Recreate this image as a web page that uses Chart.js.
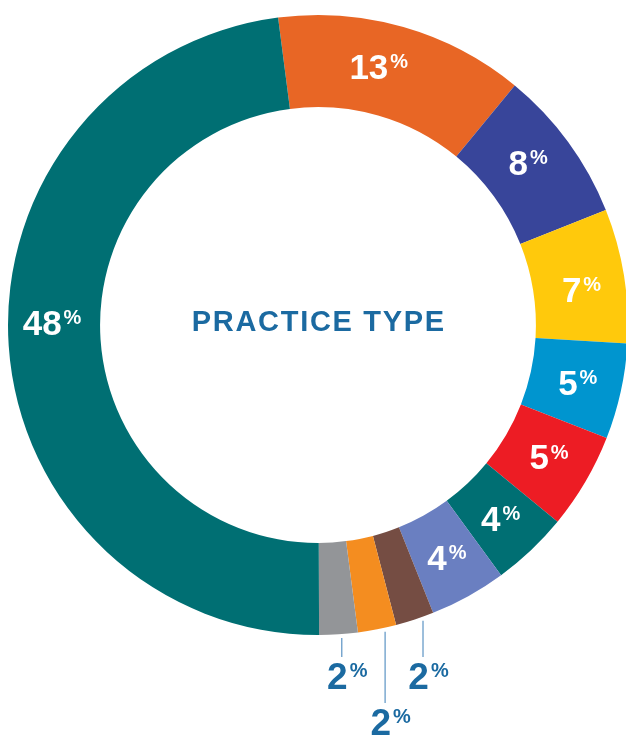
<!DOCTYPE html>
<html>
<head>
<meta charset="utf-8">
<script src="https://cdn.jsdelivr.net/npm/chart.js@4.4.0/dist/chart.umd.min.js"></script>
<style>
  html, body { margin: 0; padding: 0; background: #fff; overflow: hidden; }
  #wrap { width: 640px; height: 738px; position: relative; }
</style>
</head>
<body>
<div id="wrap"><canvas id="chart"></canvas></div>
<script>
// data, clockwise from the top
const categories = ["A", "B", "C", "D", "E", "F", "G", "H", "I", "J", "K"];
const shares = [13, 8, 7, 5, 5, 4, 4, 2, 2, 2, 48];
const colors = ["#E86625", "#38459A", "#FFC90C", "#0095CF", "#ED1C24", "#006F73",
  "#6A7FC1", "#754D43", "#F48D20", "#939598", "#006F73"];
const centerTitle = "PRACTICE TYPE";

const FONT = "'Liberation Sans', Arial, Helvetica, sans-serif";
const blue = "#1B6AA1";

// label placement tweaks (degrees along the ring), the way the original was hand-placed
const labelNudge = [-2.8, -1.6, 1.4, 0, -0.7, 0, 0, -1.6, -1.5, -0.6, 4.3];
// bottom of the leader line for the small slices
const leaderEnd = { 7: 657, 8: 703, 9: 657 };

function drawPct(ctx, value, cx, cy, size, color) {
  const num = String(value);
  const pSize = 20;
  ctx.font = `bold ${size}px ${FONT}`;
  const wN = ctx.measureText(num).width;
  ctx.font = `bold ${pSize}px ${FONT}`;
  const wP = ctx.measureText("%").width;
  const gap = 2;
  const x0 = cx - (wN + wP + gap) / 2;
  const cap = size * 0.72;
  const base = cy + cap / 2;
  ctx.fillStyle = color;
  ctx.textAlign = "left";
  ctx.textBaseline = "alphabetic";
  ctx.font = `bold ${size}px ${FONT}`;
  ctx.fillText(num, x0, base);
  ctx.font = `bold ${pSize}px ${FONT}`;
  ctx.fillText("%", x0 + wN + gap, base - cap + pSize * 0.72);
}

const labelPlugin = {
  id: "labels",
  afterDatasetsDraw(chart) {
    const ctx = chart.ctx;
    const meta = chart.getDatasetMeta(0);
    ctx.save();
    meta.data.forEach((arc, i) => {
      const v = shares[i];
      const mid = (arc.startAngle + arc.endAngle) / 2 + labelNudge[i] * Math.PI / 180;
      if (v > 2) {
        const r = (arc.innerRadius + arc.outerRadius) / 2 + 2;
        drawPct(ctx, v, arc.x + r * Math.cos(mid), arc.y + r * Math.sin(mid), 35, "#fff");
      } else {
        const lx = arc.x + arc.outerRadius * Math.cos(mid);
        const ly = arc.y + arc.outerRadius * Math.sin(mid);
        const endY = leaderEnd[i];
        ctx.strokeStyle = "#5B93C4";
        ctx.lineWidth = 1.2;
        ctx.beginPath();
        ctx.moveTo(lx, ly + 4);
        ctx.lineTo(lx, endY);
        ctx.stroke();
        drawPct(ctx, v, lx + 5.5, endY + 19, 37, blue);
      }
    });
    const m = meta.data[0];
    ctx.fillStyle = blue;
    ctx.font = `bold 29px ${FONT}`;
    ctx.letterSpacing = "1.7px";
    ctx.textAlign = "center";
    ctx.textBaseline = "middle";
    ctx.fillText(centerTitle, m.x + 0.85, m.y - 2);
    ctx.restore();
  }
};

new Chart(document.getElementById("chart"), {
  type: "doughnut",
  data: {
    labels: categories,
    datasets: [{
      data: shares,
      backgroundColor: colors,
      borderWidth: 0
    }]
  },
  options: {
    responsive: true,
    maintainAspectRatio: false,
    animation: false,
    rotation: -7.4,
    cutout: "70.3%",
    layout: { padding: { left: 8, right: 12, top: 15, bottom: 103 } },
    plugins: {
      legend: { display: false },
      tooltip: { enabled: false }
    }
  },
  plugins: [labelPlugin]
});
</script>
</body>
</html>
